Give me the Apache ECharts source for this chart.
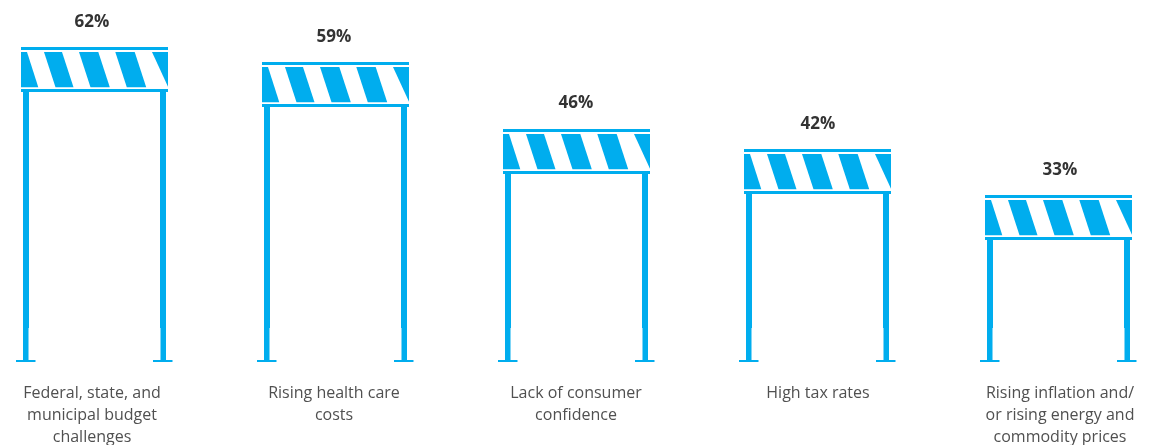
<!DOCTYPE html>
<html>
<head>
<meta charset="utf-8">
<style>html,body{margin:0;padding:0;background:#fff}#chart{width:1152px;height:445px}</style>
<script src="https://cdn.jsdelivr.net/npm/echarts@6/dist/echarts.min.js"></script>
</head>
<body>
<div id="chart"></div>
<script>
const categories = [
  'Federal, state, and\nmunicipal budget\nchallenges',
  'Rising health care\ncosts',
  'Lack of consumer\nconfidence',
  'High tax rates',
  'Rising inflation and/\nor rising energy and\ncommodity prices'
];
const values = [62, 59, 46, 42, 33];

const BLUE = '#00adee';
const PALE = '#7fd5f6';

// Draws one road barrier: top rail, striped panel, bottom rail, two legs with feet.
function renderBarrier(params, api) {
  const i = api.value(0);
  const top = api.coord([i, api.value(1)]);
  const base = api.coord([i, 0]);
  const cx = top[0], y0 = Math.round(top[1]), yb = Math.round(base[1]);
  const L = cx - 73.5, R = cx + 73.5;
  const kids = [];
  const rect = (x, y, w, h, fill) => kids.push({
    type: 'rect', shape: {x, y, width: w, height: h}, style: {fill: fill || BLUE}
  });
  rect(L, y0, 147, 3);
  rect(L, y0 + 42, 147, 3);
  const pTop = y0 + 5, pBot = y0 + 40.3;
  const poly = pts => kids.push({type: 'polygon', shape: {points: pts}, style: {fill: BLUE}});
  // leading wedge, three full stripes, trailing wedge
  poly([[L, pTop], [L + 6, pTop], [L + 17.3, pBot], [L, pBot]]);
  [[23, 41], [58, 77.3], [94.3, 113.7]].forEach(s => {
    poly([[L + s[0], pTop], [L + s[1], pTop], [L + s[1] + 11.5, pBot], [L + s[0] + 11.5, pBot]]);
  });
  poly([[L + 131, pTop], [R, pTop], [R, pBot - 0.5]]);
  // legs and feet; the lower leg has a pale inner edge
  [[L + 2, 5], [R - 8, 0]].forEach(([x, strip]) => {
    rect(x, y0 + 45, 6, yb - 35 - (y0 + 45));
    rect(x, yb - 35, 6, 33);
    rect(x + strip, yb - 35, 1, 33, PALE);
    rect(x - 7, yb - 3, 19.5, 2);
  });
  return {type: 'group', children: kids};
}

// Draws the percentage caption above a barrier.
function renderCaption(params, api) {
  const p = api.coord([api.value(0), api.value(1)]);
  return {
    type: 'text',
    x: p[0], y: p[1] - 25,
    style: {
      text: api.value(1) + '%',
      fill: '#333333',
      font: 'bold 17px "Open Sans"',
      textAlign: 'center', textVerticalAlign: 'middle'
    }
  };
}

const seriesData = values.map((v, i) => [i, v]);
const hiddenY = g => ({type: 'value', gridIndex: g, min: 0, max: 70, show: false});

const chart = echarts.init(document.getElementById('chart'), null, {renderer: 'canvas'});
chart.setOption({
  animation: false,
  backgroundColor: '#ffffff',
  grid: [
    {left: -26, width: 1205, top: 6, height: 357.4, outerBoundsMode: 'none'},
    {left: -29, width: 1210, top: 6, height: 357.4, outerBoundsMode: 'none'}
  ],
  xAxis: [
    {type: 'category', gridIndex: 0, data: categories, show: false},
    {
      type: 'category', gridIndex: 1, data: categories,
      axisLine: {show: false}, axisTick: {show: false},
      axisLabel: {
        interval: 0, margin: 19, color: '#505050', lineHeight: 22,
        fontFamily: 'Open Sans', fontSize: 16, hideOverlap: false
      }
    }
  ],
  yAxis: [hiddenY(0), hiddenY(1)],
  series: [
    {type: 'custom', xAxisIndex: 0, yAxisIndex: 0, data: seriesData, renderItem: renderBarrier, clip: false},
    {type: 'custom', xAxisIndex: 1, yAxisIndex: 1, data: seriesData, renderItem: renderCaption, clip: false}
  ]
});
</script>
</body>
</html>
